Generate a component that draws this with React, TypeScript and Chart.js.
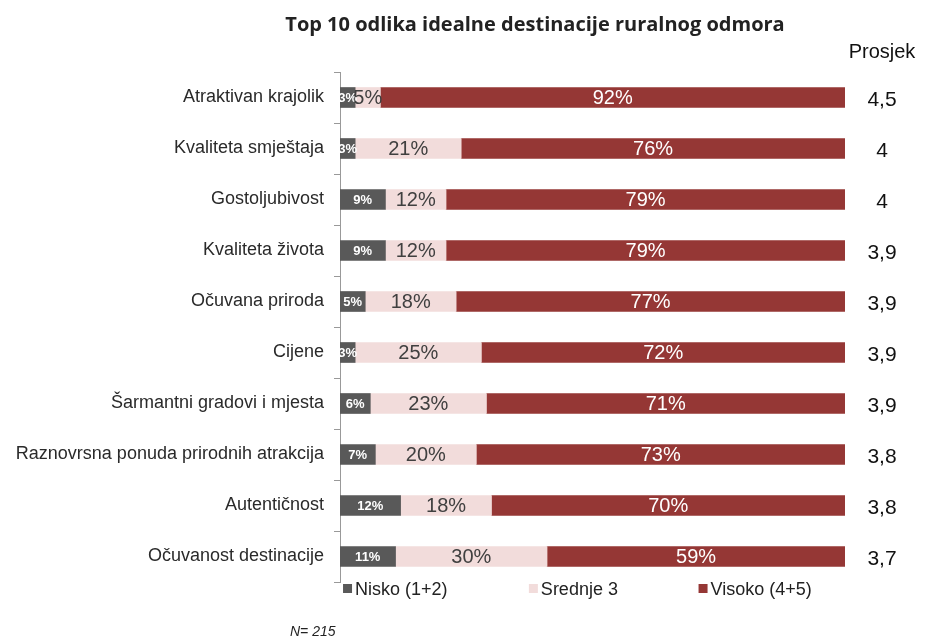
import React, { useEffect, useRef } from "react";
import { Chart, registerables } from "chart.js";

Chart.register(...registerables);

const categories = [
  "Atraktivan krajolik",
  "Kvaliteta smještaja",
  "Gostoljubivost",
  "Kvaliteta života",
  "Očuvana priroda",
  "Cijene",
  "Šarmantni gradovi i mjesta",
  "Raznovrsna ponuda prirodnih atrakcija",
  "Autentičnost",
  "Očuvanost destinacije",
];
const nisko = [3, 3, 9, 9, 5, 3, 6, 7, 12, 11];
const srednje = [5, 21, 12, 12, 18, 25, 23, 20, 18, 30];
const visoko = [92, 76, 79, 79, 77, 72, 71, 73, 70, 59];
const prosjek = ["4,5", "4", "4", "3,9", "3,9", "3,9", "3,9", "3,8", "3,8", "3,7"];
const seriesNames = ["Nisko (1+2)", "Srednje 3", "Visoko (4+5)"];
const seriesColors = ["#595959", "#f2dcdb", "#953735"];
const chartTitle = "Top 10 odlika idealne destinacije ruralnog odmora";
const prosjekTitle = "Prosjek";
const sampleNote = "N= 215";

const FONT = "'Liberation Sans', Arial, sans-serif";

const annotationsPlugin = {
  id: "annotations",
  afterDatasetsDraw(chart: any) {
    const ctx = chart.ctx;
    chart.data.datasets.forEach((ds: any, di: number) => {
      const meta = chart.getDatasetMeta(di);
      meta.data.forEach((bar: any, i: number) => {
        const { x, y, base } = bar.getProps(["x", "y", "base"], true);
        const cx = (x + base) / 2;
        ctx.save();
        ctx.font = di === 0 ? `bold 13px ${FONT}` : `20px ${FONT}`;
        ctx.fillStyle = di === 1 ? "#404040" : "#ffffff";
        ctx.textAlign = "center";
        ctx.textBaseline = "middle";
        ctx.fillText(ds.data[i] + "%", cx, y + 1);
        ctx.restore();
      });
    });
  },
  afterDraw(chart: any) {
    const ctx = chart.ctx;
    const area = chart.chartArea;
    ctx.save();
    // title
    ctx.font = `bold 20px 'Open Sans', sans-serif`;
    ctx.fillStyle = "#222";
    ctx.textAlign = "center";
    ctx.textBaseline = "middle";
    ctx.fillText(chartTitle, area.left + 195, 25);
    // Prosjek header
    const px = area.right + 37;
    ctx.font = `20px ${FONT}`;
    ctx.fillStyle = "#111";
    ctx.fillText(prosjekTitle, px, 52);
    // Prosjek values
    const meta = chart.getDatasetMeta(2);
    ctx.font = `21px ${FONT}`;
    meta.data.forEach((bar: any, i: number) => {
      ctx.fillText(prosjek[i], px, bar.y + 3);
    });
    // legend
    const legendY = 589;
    const fr = [0.006, 0.374, 0.71];
    ctx.font = `18px ${FONT}`;
    ctx.textAlign = "left";
    seriesNames.forEach((name, i) => {
      const lx = area.left + fr[i] * (area.right - area.left);
      ctx.fillStyle = seriesColors[i];
      ctx.fillRect(lx, legendY - 5, 9, 9);
      ctx.fillStyle = "#222";
      ctx.fillText(name, lx + 12, legendY + 1);
    });
    // sample note
    ctx.font = `italic 14px ${FONT}`;
    ctx.fillStyle = "#222";
    ctx.fillText(sampleNote, 290, 632);
    ctx.restore();
  },
};

export default function App() {
  const ref = useRef<HTMLCanvasElement | null>(null);
  useEffect(() => {
    if (!ref.current) return;
    const mk = (data: number[], i: number) => ({
      label: seriesNames[i],
      data,
      backgroundColor: seriesColors[i],
      borderWidth: 0,
      barThickness: 20,
    });
    const chart = new Chart(ref.current, {
      type: "bar",
      data: {
        labels: categories,
        datasets: [mk(nisko, 0), mk(srednje, 1), mk(visoko, 2)],
      },
      options: {
        indexAxis: "y",
        animation: false,
        responsive: true,
        maintainAspectRatio: false,
        layout: { padding: { left: 10, right: 98, top: 72, bottom: 62 } },
        plugins: {
          legend: { display: false },
          title: { display: false },
          tooltip: { enabled: false },
        },
        scales: {
          x: { stacked: true, min: 0, max: 100, display: false },
          y: {
            stacked: true,
            grid: {
              display: true,
              drawOnChartArea: false,
              drawTicks: true,
              tickLength: 6,
              color: "#999",
              offset: true,
            },
            border: { display: true, color: "#999" },
            ticks: {
              color: "#2a2a2a",
              font: { family: "Liberation Sans", size: 18 },
              padding: 10,
            },
            afterFit: (s: any) => {
              s.width = 330;
            },
          },
        },
      },
      plugins: [annotationsPlugin],
    } as any);
    return () => chart.destroy();
  }, []);
  return (
    <div style={{ position: "absolute", left: 0, top: 0, width: 943, height: 644, background: "#fff" }}>
      <canvas ref={ref} />
    </div>
  );
}
